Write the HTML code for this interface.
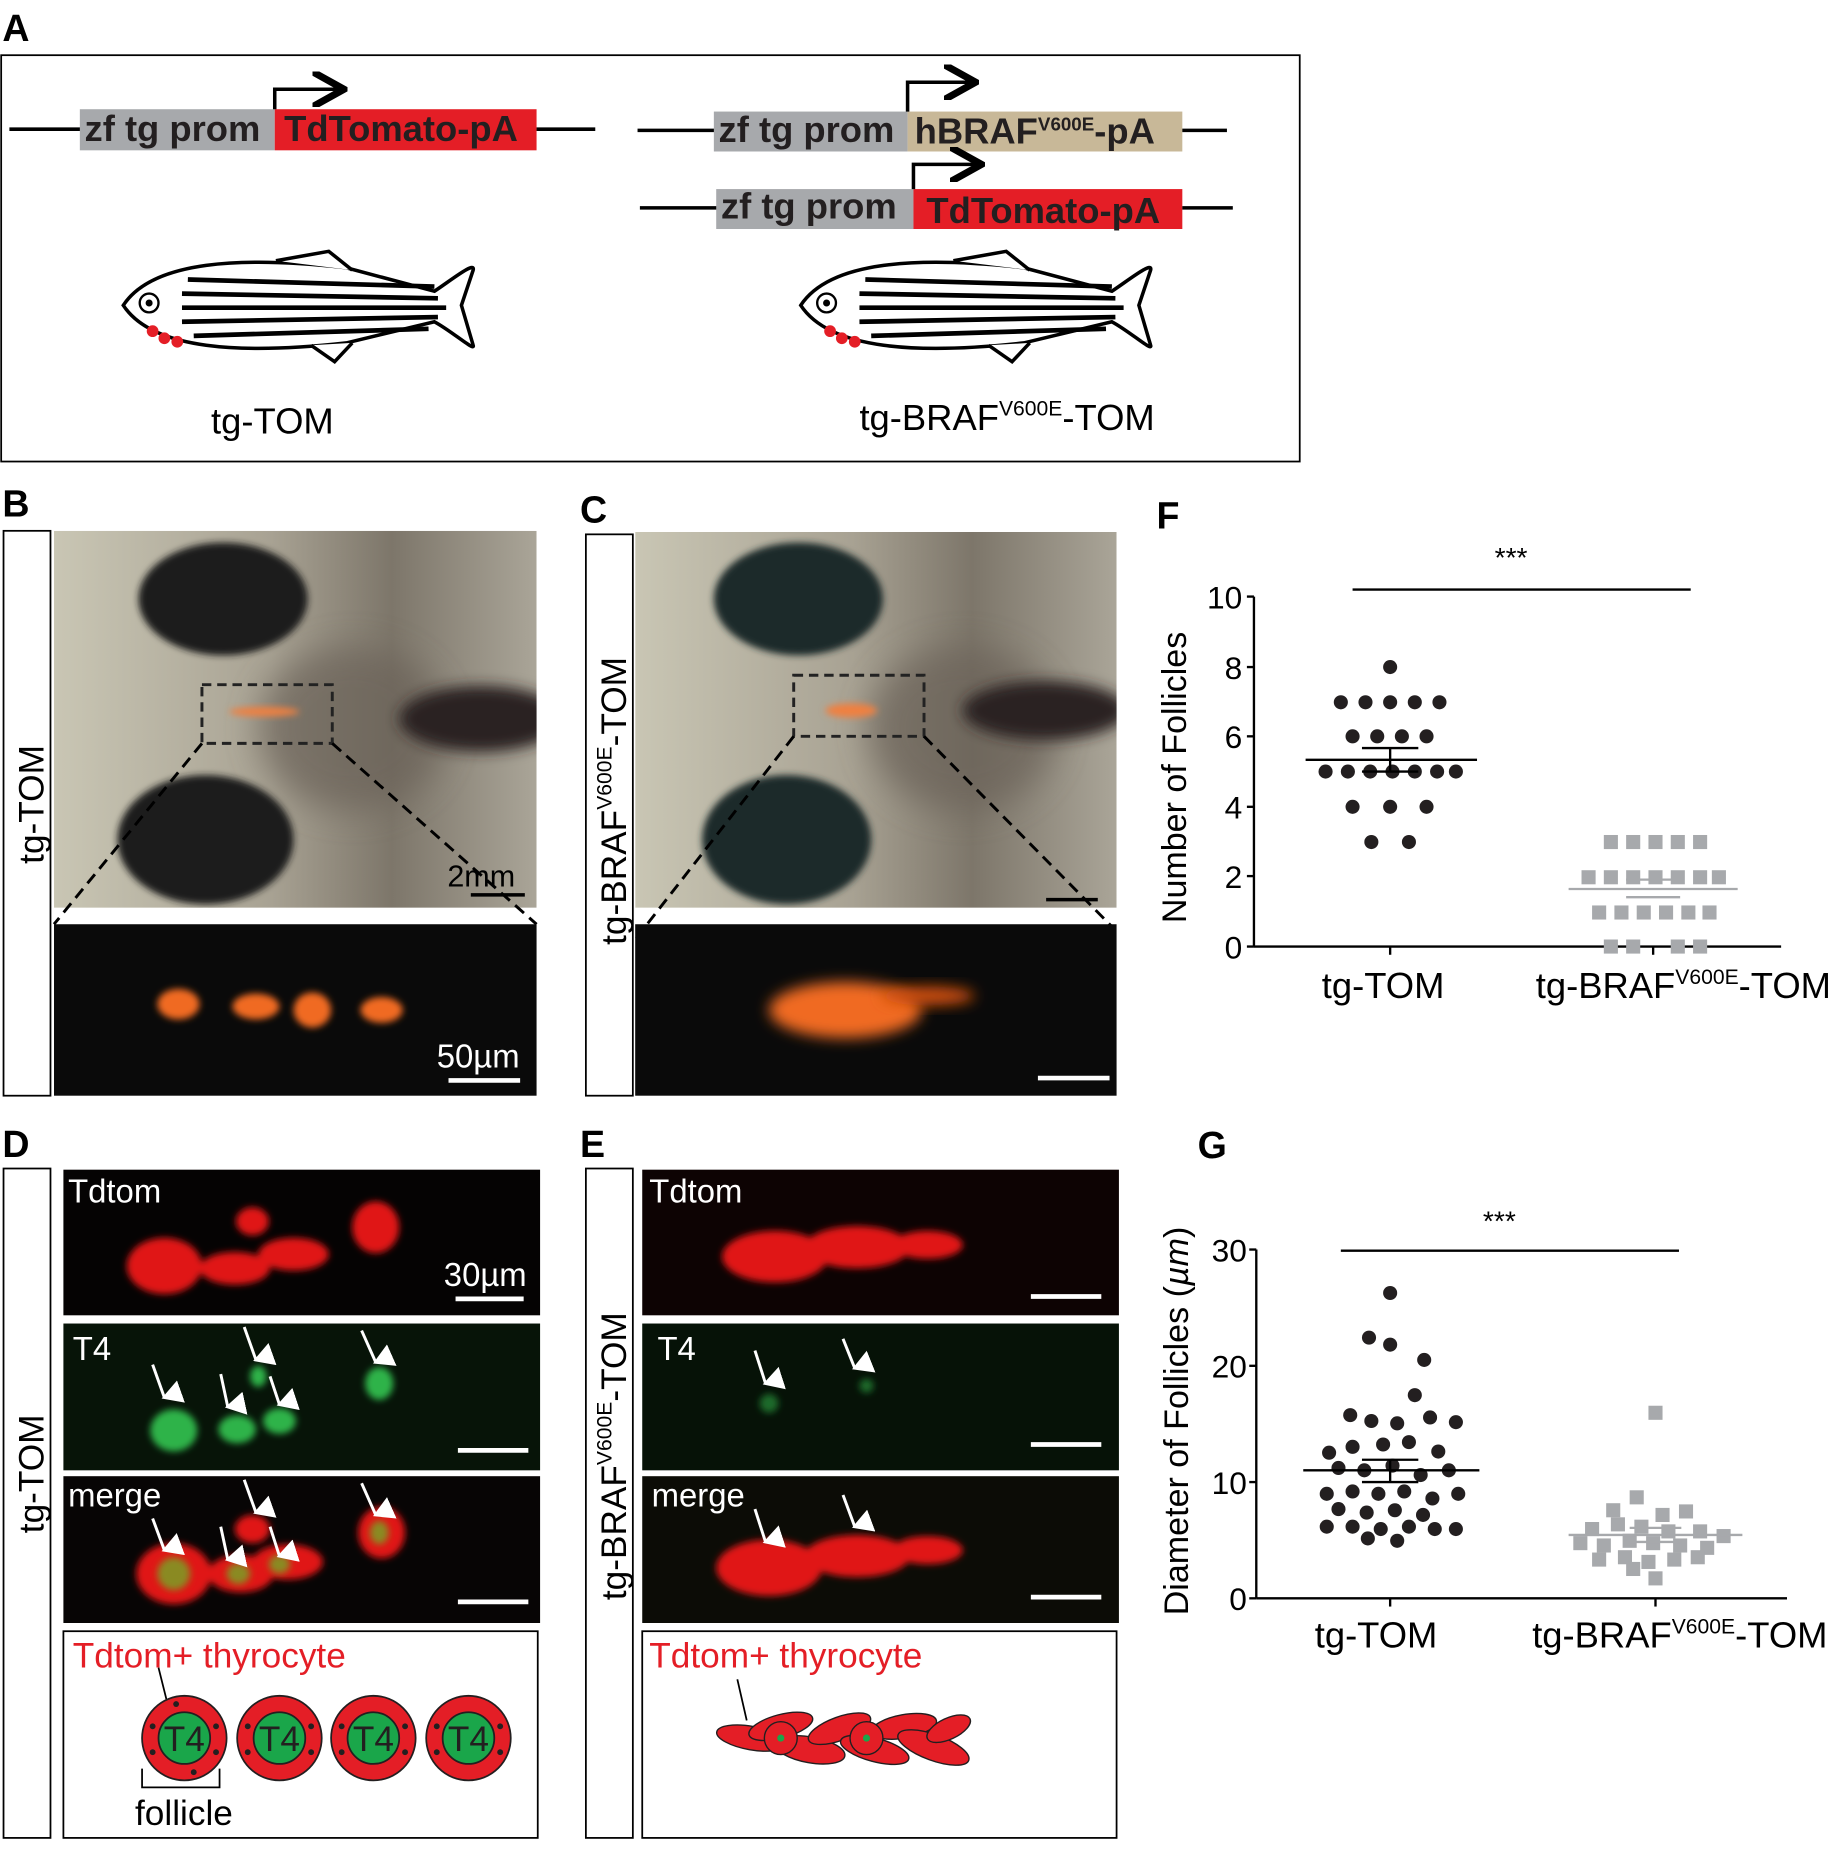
<!DOCTYPE html>
<html><head><meta charset="utf-8"><style>
html,body{margin:0;padding:0;background:#fff;}
svg{display:block;}
text{font-family:"Liberation Sans",Arial,sans-serif;}
</style></head><body>
<svg width="1841" height="1852" viewBox="0 0 1568 1577" preserveAspectRatio="none" xmlns="http://www.w3.org/2000/svg">
<defs>
<filter id="bl" x="-50%" y="-50%" width="200%" height="200%"><feGaussianBlur stdDeviation="6"/></filter>
<filter id="bl2" x="-50%" y="-50%" width="200%" height="200%"><feGaussianBlur stdDeviation="3"/></filter>
<filter id="bl3" x="-50%" y="-50%" width="200%" height="200%"><feGaussianBlur stdDeviation="14"/></filter>
<marker id="ah" markerWidth="10" markerHeight="10" refX="8" refY="5" orient="auto"><path d="M0,0 L9,5 L0,10" fill="none" stroke="#000" stroke-width="2"/></marker>
<marker id="wa" markerWidth="8" markerHeight="8" refX="4" refY="6" orient="auto"><path d="M0,0 L4,7 L8,0" fill="#fff"/></marker>
<linearGradient id="bf" x1="0" y1="0" x2="1" y2="0"><stop offset="0" stop-color="#c9c6b4"/><stop offset="0.45" stop-color="#a8a293"/><stop offset="0.7" stop-color="#7d766a"/><stop offset="1" stop-color="#aaa598"/></linearGradient>
<g id="fish">
<path d="M-150,0 C-125,-38 -50,-42 40,-32 L115,-12 C130,-22 150,-38 148,-30 L138,0 L148,34 C150,40 130,22 115,14 L40,32 C-50,42 -125,38 -150,0 Z" fill="#fff" stroke="#000" stroke-width="3"/>
<path d="M-20,-38 L25,-46 L45,-30" fill="#fff" stroke="#000" stroke-width="3"/>
<path d="M10,34 L30,48 L45,32" fill="#fff" stroke="#000" stroke-width="3"/>
<g stroke="#000" stroke-width="4" fill="none">
<path d="M-95,-22 L115,-16"/><path d="M-100,-10 L118,-6"/><path d="M-100,2 L125,2"/><path d="M-100,14 L118,10"/><path d="M-90,26 L110,20"/>
</g>
<circle cx="-128" cy="-2" r="8" fill="#fff" stroke="#000" stroke-width="2"/><circle cx="-128" cy="-2" r="3" fill="#000"/>
<circle cx="-125" cy="22" r="5" fill="#e41e26"/><circle cx="-115" cy="28" r="5" fill="#e41e26"/><circle cx="-104" cy="31" r="5" fill="#e41e26"/>
</g>
</defs>

<!-- Panel A -->
<text x="2" y="35" font-size="32" font-weight="bold">A</text>
<rect x="1" y="47" width="1106" height="346" fill="none" stroke="#000" stroke-width="1.5"/>
<g font-size="31" font-weight="bold">
<line x1="8" y1="110" x2="70" y2="110" stroke="#000" stroke-width="3"/>
<rect x="68" y="93" width="166" height="35" fill="#a7a9ac"/><text x="72" y="120" fill="#231f20">zf tg prom</text>
<rect x="234" y="93" width="223" height="35" fill="#e41e26"/><text x="242" y="120" fill="#231f20">TdTomato-pA</text>
<line x1="457" y1="110" x2="507" y2="110" stroke="#000" stroke-width="3"/>
<path d="M234,93 L234,76 L290,76" fill="none" stroke="#000" stroke-width="3" marker-end="url(#ah)"/>

<line x1="543" y1="111" x2="610" y2="111" stroke="#000" stroke-width="3"/>
<rect x="608" y="95" width="165" height="34" fill="#a7a9ac"/><text x="612" y="121" fill="#231f20">zf tg prom</text>
<rect x="773" y="95" width="234" height="34" fill="#c8b898"/><text x="779" y="122" fill="#231f20">hBRAF<tspan font-size="16" dy="-11">V600E</tspan><tspan dy="11">-pA</tspan></text>
<line x1="1007" y1="111" x2="1045" y2="111" stroke="#000" stroke-width="3"/>
<path d="M773,95 L773,70 L828,70" fill="none" stroke="#000" stroke-width="3" marker-end="url(#ah)"/>

<line x1="545" y1="177" x2="612" y2="177" stroke="#000" stroke-width="3"/>
<rect x="610" y="161" width="168" height="34" fill="#a7a9ac"/><text x="614" y="186" fill="#231f20">zf tg prom</text>
<rect x="778" y="161" width="229" height="34" fill="#e41e26"/><text x="789" y="190" fill="#231f20">TdTomato-pA</text>
<line x1="1007" y1="177" x2="1050" y2="177" stroke="#000" stroke-width="3"/>
<path d="M778,161 L778,140 L833,140" fill="none" stroke="#000" stroke-width="3" marker-end="url(#ah)"/>
</g>
<use href="#fish" transform="translate(255,260)"/>
<use href="#fish" transform="translate(832,260)"/>
<text x="232" y="369" font-size="31" text-anchor="middle">tg-TOM</text>
<text x="732" y="366" font-size="31">tg-BRAF<tspan font-size="18" dy="-12">V600E</tspan><tspan dy="12">-TOM</tspan></text>

<!-- Panel B -->
<text x="2" y="440" font-size="32" font-weight="bold">B</text>
<rect x="3" y="452" width="40" height="481" fill="none" stroke="#000" stroke-width="1.5"/>
<text transform="translate(37,685) rotate(-90)" font-size="30" text-anchor="middle">tg-TOM</text>
<svg x="46" y="452" width="411" height="321" viewBox="46 452 411 321" overflow="hidden">
<rect x="46" y="452" width="411" height="321" fill="url(#bf)"/>
<ellipse cx="300" cy="620" rx="80" ry="70" fill="#6a6258" filter="url(#bl3)" opacity="0.7"/>
<ellipse cx="410" cy="612" rx="70" ry="28" fill="#2a2420" filter="url(#bl)"/>
<ellipse cx="190" cy="510" rx="72" ry="48" fill="#1a1d1a" filter="url(#bl2)"/>
<ellipse cx="175" cy="715" rx="75" ry="55" fill="#1a1d1a" filter="url(#bl2)"/>
</svg>
<rect x="172" y="583" width="111" height="50" fill="none" stroke="#222" stroke-width="2.5" stroke-dasharray="8,5"/>
<ellipse cx="225" cy="606" rx="30" ry="4" fill="#f08040" filter="url(#bl2)"/>
<line x1="172" y1="633" x2="46" y2="787" stroke="#000" stroke-width="2.5" stroke-dasharray="10,6"/>
<line x1="283" y1="633" x2="457" y2="787" stroke="#000" stroke-width="2.5" stroke-dasharray="10,6"/>
<text x="381" y="755" font-size="26">2mm</text><line x1="401" y1="762" x2="447" y2="762" stroke="#000" stroke-width="3"/>
<rect x="46" y="787" width="411" height="146" fill="#0a0a0a"/>
<g fill="#f06a20" filter="url(#bl2)"><ellipse cx="152" cy="855" rx="18" ry="13"/><ellipse cx="218" cy="857" rx="20" ry="11"/><ellipse cx="266" cy="860" rx="16" ry="15"/><ellipse cx="325" cy="860" rx="18" ry="11"/></g>
<text x="372" y="909" font-size="28" fill="#fff">50µm</text><line x1="382" y1="920" x2="443" y2="920" stroke="#fff" stroke-width="4"/>

<!-- Panel C -->
<text x="494" y="445" font-size="32" font-weight="bold">C</text>
<rect x="499" y="455" width="40" height="478" fill="none" stroke="#000" stroke-width="1.5"/>
<text transform="translate(533,682) rotate(-90)" font-size="30" text-anchor="middle">tg-BRAF<tspan font-size="18" dy="-12">V600E</tspan><tspan dy="12">-TOM</tspan></text>
<svg x="541" y="453" width="410" height="320" viewBox="541 453 410 320" overflow="hidden">
<rect x="541" y="453" width="410" height="320" fill="url(#bf)"/>
<ellipse cx="820" cy="620" rx="80" ry="70" fill="#6a6258" filter="url(#bl3)" opacity="0.7"/>
<ellipse cx="890" cy="605" rx="70" ry="25" fill="#2a2024" filter="url(#bl)"/>
<ellipse cx="680" cy="510" rx="72" ry="48" fill="#1c2b2c" filter="url(#bl2)"/>
<ellipse cx="670" cy="715" rx="72" ry="55" fill="#1c2b2c" filter="url(#bl2)"/>
</svg>
<rect x="676" y="575" width="111" height="52" fill="none" stroke="#222" stroke-width="2.5" stroke-dasharray="8,5"/>
<ellipse cx="725" cy="605" rx="22" ry="6" fill="#f08040" filter="url(#bl2)"/>
<line x1="676" y1="627" x2="541" y2="800" stroke="#000" stroke-width="2.5" stroke-dasharray="10,6"/>
<line x1="787" y1="627" x2="948" y2="790" stroke="#000" stroke-width="2.5" stroke-dasharray="10,6"/>
<line x1="891" y1="766" x2="935" y2="766" stroke="#000" stroke-width="3"/>
<rect x="541" y="787" width="410" height="146" fill="#0a0a0a"/>
<ellipse cx="720" cy="860" rx="65" ry="24" fill="#f06a20" filter="url(#bl)"/>
<ellipse cx="790" cy="848" rx="40" ry="8" fill="#d05010" filter="url(#bl)"/>
<line x1="884" y1="918" x2="945" y2="918" stroke="#fff" stroke-width="4"/>

<!-- Panel D -->
<text x="2" y="985" font-size="32" font-weight="bold">D</text>
<rect x="3" y="995" width="40" height="570" fill="none" stroke="#000" stroke-width="1.5"/>
<text transform="translate(37,1255) rotate(-90)" font-size="30" text-anchor="middle">tg-TOM</text>
<rect x="54" y="996" width="406" height="124" fill="#050303"/>
<g fill="#e01818" filter="url(#bl2)"><ellipse cx="140" cy="1078" rx="32" ry="24"/><ellipse cx="200" cy="1080" rx="30" ry="14"/><ellipse cx="250" cy="1068" rx="30" ry="14"/><ellipse cx="215" cy="1040" rx="14" ry="12"/><ellipse cx="320" cy="1045" rx="20" ry="22"/></g>
<text x="58" y="1024" font-size="28" fill="#fff">Tdtom</text>
<text x="378" y="1095" font-size="28" fill="#fff">30µm</text><line x1="388" y1="1106" x2="446" y2="1106" stroke="#fff" stroke-width="4"/>
<rect x="54" y="1127" width="406" height="125" fill="#071408"/>
<g fill="#2db34a" filter="url(#bl2)"><ellipse cx="148" cy="1218" rx="20" ry="18"/><ellipse cx="202" cy="1217" rx="16" ry="12"/><ellipse cx="238" cy="1210" rx="14" ry="11"/><ellipse cx="220" cy="1172" rx="7" ry="9"/><ellipse cx="323" cy="1178" rx="12" ry="14"/></g>
<text x="62" y="1158" font-size="28" fill="#fff">T4</text><line x1="390" y1="1235" x2="450" y2="1235" stroke="#fff" stroke-width="4"/>
<rect x="54" y="1257" width="406" height="125" fill="#070505"/>
<g fill="#e01818" filter="url(#bl2)"><ellipse cx="148" cy="1340" rx="32" ry="26"/><ellipse cx="205" cy="1340" rx="28" ry="16"/><ellipse cx="245" cy="1330" rx="30" ry="15"/><ellipse cx="215" cy="1302" rx="15" ry="12"/><ellipse cx="325" cy="1305" rx="20" ry="22"/></g>
<g fill="#8a8a20" filter="url(#bl2)"><ellipse cx="148" cy="1340" rx="14" ry="14"/><ellipse cx="203" cy="1340" rx="10" ry="9"/><ellipse cx="238" cy="1332" rx="9" ry="8"/><ellipse cx="323" cy="1305" rx="8" ry="10"/></g>
<text x="58" y="1283" font-size="28" fill="#fff">merge</text><line x1="390" y1="1364" x2="450" y2="1364" stroke="#fff" stroke-width="4"/>
<g stroke="#fff" stroke-width="2.5" marker-end="url(#wa)">
<line x1="130" y1="1162" x2="140" y2="1190"/><line x1="188" y1="1170" x2="194" y2="1198"/><line x1="230" y1="1172" x2="238" y2="1196"/><line x1="208" y1="1130" x2="218" y2="1158"/><line x1="308" y1="1133" x2="320" y2="1160"/>
<line x1="130" y1="1293" x2="140" y2="1320"/><line x1="188" y1="1300" x2="194" y2="1328"/><line x1="230" y1="1300" x2="238" y2="1325"/><line x1="208" y1="1260" x2="218" y2="1288"/><line x1="308" y1="1263" x2="320" y2="1290"/>
</g>
<rect x="54" y="1389" width="404" height="176" fill="#fff" stroke="#000" stroke-width="1.5"/>
<text x="62" y="1420" font-size="30" fill="#e41e26">Tdtom+ thyrocyte</text>
<line x1="135" y1="1420" x2="143" y2="1452" stroke="#000" stroke-width="1.5"/>
<g stroke="#231f20" stroke-width="1.5">
<g transform="translate(157,1480)"><circle r="36" fill="#e41e26"/><circle r="22" fill="#1aa64a"/><text x="0" y="11" font-size="30" text-anchor="middle" fill="#231f20" stroke="none">T4</text></g>
<g transform="translate(238,1480)"><circle r="36" fill="#e41e26"/><circle r="22" fill="#1aa64a"/><text x="0" y="11" font-size="30" text-anchor="middle" fill="#231f20" stroke="none">T4</text></g>
<g transform="translate(318,1480)"><circle r="36" fill="#e41e26"/><circle r="22" fill="#1aa64a"/><text x="0" y="11" font-size="30" text-anchor="middle" fill="#231f20" stroke="none">T4</text></g>
<g transform="translate(399,1480)"><circle r="36" fill="#e41e26"/><circle r="22" fill="#1aa64a"/><text x="0" y="11" font-size="30" text-anchor="middle" fill="#231f20" stroke="none">T4</text></g>
</g>
<g fill="#231f20">
<circle cx="130" cy="1470" r="2.5"/><circle cx="184" cy="1470" r="2.5"/><circle cx="130" cy="1492" r="2.5"/><circle cx="184" cy="1492" r="2.5"/><circle cx="150" cy="1451" r="2.5"/><circle cx="165" cy="1509" r="2.5"/>
<circle cx="211" cy="1470" r="2.5"/><circle cx="265" cy="1470" r="2.5"/><circle cx="211" cy="1492" r="2.5"/><circle cx="265" cy="1492" r="2.5"/>
<circle cx="291" cy="1470" r="2.5"/><circle cx="345" cy="1470" r="2.5"/><circle cx="291" cy="1492" r="2.5"/><circle cx="345" cy="1492" r="2.5"/>
<circle cx="372" cy="1470" r="2.5"/><circle cx="426" cy="1470" r="2.5"/><circle cx="372" cy="1492" r="2.5"/><circle cx="426" cy="1492" r="2.5"/>
</g>
<path d="M121,1506 L121,1522 L187,1522 L187,1506" fill="none" stroke="#000" stroke-width="1.5"/>
<text x="115" y="1554" font-size="30">follicle</text>

<!-- Panel E -->
<text x="494" y="985" font-size="32" font-weight="bold">E</text>
<rect x="499" y="995" width="40" height="570" fill="none" stroke="#000" stroke-width="1.5"/>
<text transform="translate(533,1240) rotate(-90)" font-size="30" text-anchor="middle">tg-BRAF<tspan font-size="18" dy="-12">V600E</tspan><tspan dy="12">-TOM</tspan></text>
<rect x="547" y="996" width="406" height="124" fill="#0d0303"/>
<g fill="#e01818" filter="url(#bl2)"><ellipse cx="660" cy="1070" rx="45" ry="22"/><ellipse cx="730" cy="1062" rx="45" ry="18"/><ellipse cx="790" cy="1060" rx="30" ry="12"/></g>
<text x="553" y="1024" font-size="28" fill="#fff">Tdtom</text><line x1="878" y1="1104" x2="938" y2="1104" stroke="#fff" stroke-width="4"/>
<rect x="547" y="1127" width="406" height="125" fill="#061207"/>
<g fill="#1e6a2a" filter="url(#bl2)"><ellipse cx="655" cy="1195" rx="8" ry="8"/><ellipse cx="738" cy="1180" rx="6" ry="6"/></g>
<text x="560" y="1158" font-size="28" fill="#fff">T4</text><line x1="878" y1="1230" x2="938" y2="1230" stroke="#fff" stroke-width="4"/>
<rect x="547" y="1257" width="406" height="125" fill="#0c0c06"/>
<g fill="#e01818" filter="url(#bl2)"><ellipse cx="655" cy="1335" rx="45" ry="24"/><ellipse cx="730" cy="1325" rx="45" ry="18"/><ellipse cx="790" cy="1320" rx="30" ry="12"/></g>
<text x="555" y="1283" font-size="28" fill="#fff">merge</text><line x1="878" y1="1360" x2="938" y2="1360" stroke="#fff" stroke-width="4"/>
<g stroke="#fff" stroke-width="2.5" marker-end="url(#wa)">
<line x1="643" y1="1150" x2="652" y2="1178"/><line x1="718" y1="1140" x2="728" y2="1165"/>
<line x1="643" y1="1285" x2="652" y2="1313"/><line x1="718" y1="1273" x2="728" y2="1300"/>
</g>
<rect x="547" y="1389" width="404" height="176" fill="#fff" stroke="#000" stroke-width="1.5"/>
<text x="553" y="1420" font-size="30" fill="#e41e26">Tdtom+ thyrocyte</text>
<line x1="628" y1="1430" x2="636" y2="1465" stroke="#000" stroke-width="1.5"/>
<g fill="#e41e26" stroke="#231f20" stroke-width="1.2">
<ellipse cx="640" cy="1480" rx="30" ry="10" transform="rotate(10 640 1480)"/>
<ellipse cx="665" cy="1470" rx="28" ry="10" transform="rotate(-15 665 1470)"/>
<ellipse cx="690" cy="1490" rx="30" ry="11" transform="rotate(10 690 1490)"/>
<ellipse cx="715" cy="1472" rx="28" ry="10" transform="rotate(-20 715 1472)"/>
<ellipse cx="745" cy="1490" rx="30" ry="10" transform="rotate(15 745 1490)"/>
<ellipse cx="770" cy="1470" rx="28" ry="10" transform="rotate(-10 770 1470)"/>
<ellipse cx="795" cy="1488" rx="32" ry="11" transform="rotate(20 795 1488)"/>
<ellipse cx="808" cy="1472" rx="20" ry="9" transform="rotate(-25 808 1472)"/>
<circle cx="665" cy="1480" r="14"/><circle cx="738" cy="1480" r="14"/>
</g>
<circle cx="665" cy="1480" r="3" fill="#1aa64a"/><circle cx="738" cy="1480" r="3" fill="#1aa64a"/>

<!-- Panel F -->
<text x="985" y="450" font-size="32" font-weight="bold">F</text>
<g stroke="#000" stroke-width="2" fill="none">
<line x1="1068" y1="508" x2="1068" y2="806"/><line x1="1068" y1="806" x2="1517" y2="806"/>
<line x1="1062" y1="508" x2="1068" y2="508"/><line x1="1062" y1="568" x2="1068" y2="568"/><line x1="1062" y1="627" x2="1068" y2="627"/><line x1="1062" y1="687" x2="1068" y2="687"/><line x1="1062" y1="746" x2="1068" y2="746"/><line x1="1062" y1="806" x2="1068" y2="806"/>
<line x1="1184" y1="806" x2="1184" y2="813"/><line x1="1408" y1="806" x2="1408" y2="813"/>
<line x1="1152" y1="502" x2="1440" y2="502"/>
</g>
<g font-size="27" text-anchor="end"><text x="1058" y="518">10</text><text x="1058" y="578">8</text><text x="1058" y="637">6</text><text x="1058" y="697">4</text><text x="1058" y="756">2</text><text x="1058" y="816">0</text></g>
<text x="1287" y="483" font-size="24" text-anchor="middle">***</text>
<text transform="translate(1010,662) rotate(-90)" font-size="29" text-anchor="middle">Number of Follicles</text>
<text x="1178" y="850" font-size="31" text-anchor="middle">tg-TOM</text>
<text x="1308" y="850" font-size="31">tg-BRAF<tspan font-size="18" dy="-12">V600E</tspan><tspan dy="12">-TOM</tspan></text>
<g fill="#231f20">
<circle cx="1184" cy="568" r="6"/>
<circle cx="1142" cy="598" r="6"/><circle cx="1163" cy="598" r="6"/><circle cx="1184" cy="598" r="6"/><circle cx="1205" cy="598" r="6"/><circle cx="1226" cy="598" r="6"/>
<circle cx="1152" cy="627" r="6"/><circle cx="1173" cy="627" r="6"/><circle cx="1194" cy="627" r="6"/><circle cx="1215" cy="627" r="6"/>
<circle cx="1129" cy="657" r="6"/><circle cx="1148" cy="657" r="6"/><circle cx="1167" cy="657" r="6"/><circle cx="1186" cy="657" r="6"/><circle cx="1205" cy="657" r="6"/><circle cx="1224" cy="657" r="6"/><circle cx="1240" cy="657" r="6"/>
<circle cx="1152" cy="687" r="6"/><circle cx="1184" cy="687" r="6"/><circle cx="1215" cy="687" r="6"/>
<circle cx="1168" cy="717" r="6"/><circle cx="1200" cy="717" r="6"/>
</g>
<g stroke="#000" stroke-width="2"><line x1="1112" y1="647" x2="1258" y2="647"/><line x1="1184" y1="637" x2="1184" y2="657"/><line x1="1160" y1="637" x2="1208" y2="637"/><line x1="1160" y1="657" x2="1208" y2="657"/></g>
<g fill="#a7a9ac">
<rect x="1366" y="711" width="12" height="12"/><rect x="1385" y="711" width="12" height="12"/><rect x="1404" y="711" width="12" height="12"/><rect x="1423" y="711" width="12" height="12"/><rect x="1442" y="711" width="12" height="12"/>
<rect x="1347" y="741" width="12" height="12"/><rect x="1366" y="741" width="12" height="12"/><rect x="1385" y="741" width="12" height="12"/><rect x="1404" y="741" width="12" height="12"/><rect x="1423" y="741" width="12" height="12"/><rect x="1442" y="741" width="12" height="12"/><rect x="1458" y="741" width="12" height="12"/>
<rect x="1356" y="771" width="12" height="12"/><rect x="1375" y="771" width="12" height="12"/><rect x="1394" y="771" width="12" height="12"/><rect x="1413" y="771" width="12" height="12"/><rect x="1432" y="771" width="12" height="12"/><rect x="1450" y="771" width="12" height="12"/>
<rect x="1366" y="800" width="12" height="12"/><rect x="1385" y="800" width="12" height="12"/><rect x="1423" y="800" width="12" height="12"/><rect x="1442" y="800" width="12" height="12"/>
</g>
<g stroke="#a7a9ac" stroke-width="2"><line x1="1336" y1="757" x2="1480" y2="757"/><line x1="1385" y1="764" x2="1431" y2="764"/><line x1="1385" y1="749" x2="1431" y2="749"/></g>

<!-- Panel G -->
<text x="1020" y="986" font-size="32" font-weight="bold">G</text>
<g stroke="#000" stroke-width="2" fill="none">
<line x1="1070" y1="1064" x2="1070" y2="1361"/><line x1="1070" y1="1361" x2="1522" y2="1361"/>
<line x1="1064" y1="1064" x2="1070" y2="1064"/><line x1="1064" y1="1163" x2="1070" y2="1163"/><line x1="1064" y1="1262" x2="1070" y2="1262"/><line x1="1064" y1="1361" x2="1070" y2="1361"/>
<line x1="1184" y1="1361" x2="1184" y2="1368"/><line x1="1410" y1="1361" x2="1410" y2="1368"/>
<line x1="1142" y1="1065" x2="1430" y2="1065"/>
</g>
<g font-size="27" text-anchor="end"><text x="1062" y="1074">30</text><text x="1062" y="1173">20</text><text x="1062" y="1272">10</text><text x="1062" y="1371">0</text></g>
<text x="1277" y="1048" font-size="24" text-anchor="middle">***</text>
<text transform="translate(1012,1210) rotate(-90)" font-size="29" text-anchor="middle">Diameter of Follicles (<tspan font-style="italic">µm</tspan>)</text>
<text x="1172" y="1403" font-size="31" text-anchor="middle">tg-TOM</text>
<text x="1305" y="1403" font-size="31">tg-BRAF<tspan font-size="18" dy="-12">V600E</tspan><tspan dy="12">-TOM</tspan></text>
<g fill="#231f20">
<circle cx="1184" cy="1101" r="6"/><circle cx="1166" cy="1139" r="6"/><circle cx="1184" cy="1145" r="6"/><circle cx="1213" cy="1158" r="6"/>
<circle cx="1205" cy="1188" r="6"/><circle cx="1150" cy="1205" r="6"/><circle cx="1168" cy="1210" r="6"/><circle cx="1190" cy="1212" r="6"/><circle cx="1218" cy="1207" r="6"/><circle cx="1240" cy="1211" r="6"/>
<circle cx="1132" cy="1237" r="6"/><circle cx="1152" cy="1232" r="6"/><circle cx="1178" cy="1230" r="6"/><circle cx="1200" cy="1228" r="6"/><circle cx="1225" cy="1236" r="6"/>
<circle cx="1140" cy="1250" r="6"/><circle cx="1162" cy="1252" r="6"/><circle cx="1186" cy="1248" r="6"/><circle cx="1210" cy="1256" r="6"/><circle cx="1234" cy="1252" r="6"/>
<circle cx="1130" cy="1272" r="6"/><circle cx="1152" cy="1270" r="6"/><circle cx="1174" cy="1272" r="6"/><circle cx="1196" cy="1270" r="6"/><circle cx="1220" cy="1276" r="6"/><circle cx="1242" cy="1272" r="6"/>
<circle cx="1140" cy="1285" r="6"/><circle cx="1164" cy="1288" r="6"/><circle cx="1188" cy="1286" r="6"/><circle cx="1212" cy="1290" r="6"/>
<circle cx="1130" cy="1300" r="6"/><circle cx="1152" cy="1300" r="6"/><circle cx="1176" cy="1302" r="6"/><circle cx="1200" cy="1300" r="6"/><circle cx="1222" cy="1302" r="6"/><circle cx="1240" cy="1302" r="6"/>
<circle cx="1165" cy="1310" r="6"/><circle cx="1190" cy="1312" r="6"/>
</g>
<g stroke="#000" stroke-width="2"><line x1="1110" y1="1252" x2="1260" y2="1252"/><line x1="1160" y1="1243" x2="1208" y2="1243"/><line x1="1160" y1="1262" x2="1208" y2="1262"/><line x1="1184" y1="1243" x2="1184" y2="1262"/></g>
<g fill="#a7a9ac">
<rect x="1404" y="1197" width="12" height="12"/>
<rect x="1388" y="1269" width="12" height="12"/><rect x="1368" y="1280" width="12" height="12"/><rect x="1410" y="1284" width="12" height="12"/><rect x="1430" y="1281" width="12" height="12"/>
<rect x="1350" y="1296" width="12" height="12"/><rect x="1372" y="1292" width="12" height="12"/><rect x="1392" y="1294" width="12" height="12"/><rect x="1415" y="1298" width="12" height="12"/><rect x="1442" y="1298" width="12" height="12"/><rect x="1462" y="1302" width="12" height="12"/>
<rect x="1340" y="1308" width="12" height="12"/><rect x="1360" y="1310" width="12" height="12"/><rect x="1382" y="1306" width="12" height="12"/><rect x="1402" y="1308" width="12" height="12"/><rect x="1425" y="1310" width="12" height="12"/><rect x="1448" y="1312" width="12" height="12"/>
<rect x="1356" y="1322" width="12" height="12"/><rect x="1378" y="1320" width="12" height="12"/><rect x="1398" y="1324" width="12" height="12"/><rect x="1420" y="1322" width="12" height="12"/><rect x="1440" y="1320" width="12" height="12"/>
<rect x="1385" y="1330" width="12" height="12"/><rect x="1404" y="1338" width="12" height="12"/>
</g>
<g stroke="#a7a9ac" stroke-width="2"><line x1="1336" y1="1307" x2="1484" y2="1307"/><line x1="1388" y1="1301" x2="1432" y2="1301"/><line x1="1388" y1="1313" x2="1432" y2="1313"/></g>
</svg>
</body></html>
